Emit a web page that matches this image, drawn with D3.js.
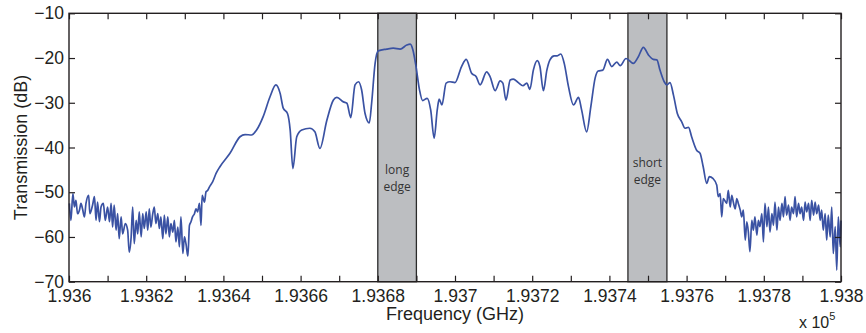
<!DOCTYPE html>
<html>
<head>
<meta charset="utf-8">
<script src="https://cdn.jsdelivr.net/npm/d3@7"></script>
<style>
  body { margin: 0; background: #fff; }
  svg text { font-family: "Liberation Sans", Arial, Helvetica, sans-serif; fill: #231f20; }
  .axis path { display: none; }
  .axis line { stroke: #231f20; stroke-width: 1.2; }
  .axis text { font-size: 17.5px; }
  .band-label { font-family: "Open Sans", "Noto Sans", sans-serif !important; font-size: 12px; fill: #333; }
</style>
</head>
<body>
<div id="chart"></div>
<script>
// frequency in GHz, transmission in dB
var freqGHz = [
  193600.1,193600.5,193601.0,193601.4,193601.8,193602.2,193602.7,193603.1,193603.5,193604.0,
  193604.4,193605.1,193605.4,193606.1,193606.6,193607.0,193607.4,193607.9,193608.3,193608.9,
  193609.4,193610.0,193610.5,193610.9,193611.3,193611.7,193612.2,193612.6,193613.0,193613.5,
  193613.9,193614.6,193615.2,193615.6,193616.1,193616.5,193616.9,193617.4,193617.8,193618.2,
  193618.7,193619.1,193619.5,193620.0,193620.4,193620.8,193621.2,193621.7,193622.1,193622.5,
  193623.0,193623.4,193623.8,193624.3,193624.7,193625.1,193625.6,193626.0,193626.4,193626.9,
  193627.3,193627.7,193628.2,193628.6,193629.0,193629.5,193629.9,193630.3,193630.8,193631.2,
  193631.6,193632.0,193632.5,193632.9,193633.3,193633.8,193634.2,193634.5,193635.1,193635.5,
  193635.9,193636.4,193637.2,193638.1,
  193639.1,193641.7,193644.3,193645.6,193647.3,193648.6,193650.3,193652.1,193653.6,193654.7,
  193655.5,193656.6,193657.3,193658.0,193659.0,193660.3,193662.4,193663.7,193665.0,193666.8,
  193668.5,193669.4,193671.1,193672.0,193673.0,193674.1,193675.0,193675.8,193676.7,193677.8,
  193678.4,193679.3,193680.1,193682.3,193684.0,193685.8,193687.5,193688.4,193689.1,193689.9,
  193690.8,193691.6,193692.8,193693.7,193694.6,193695.4,193695.9,193696.6,193697.7,193698.7,
  193700.0,193701.7,193702.9,193704.3,193705.5,193706.5,193708.2,193709.1,193710.4,193711.7,
  193712.4,193713.2,193714.3,193715.1,193716.4,193717.6,193718.6,193719.4,193720.3,193721.3,
  193722.0,193722.9,193723.8,193724.6,193725.7,193726.5,193727.4,193728.3,193729.4,193730.7,
  193732.0,193732.8,193734.1,193735.2,193736.3,193737.1,193738.3,193739.5,193740.6,193741.9,
  193742.8,193744.3,193746.2,193747.5,193748.8,193750.1,193751.4,193752.3,193753.1,193754.2,
  193754.9,193755.7,193756.6,193757.6,193758.7,193759.6,193760.5,193761.3,193762.6,193763.5,
  193764.3,193765.2,193765.9,193766.8,193767.8,
  193768.2,193768.7,193769.1,193769.5,193770.4,193770.8,193771.3,193771.7,193772.1,193772.6,
  193773.0,193773.4,193773.9,193774.3,193774.7,193775.2,193775.6,193776.0,193776.4,193776.9,
  193777.3,193777.7,193778.2,193778.6,193779.0,193779.5,193779.9,193780.3,193780.8,193781.2,
  193781.6,193782.1,193782.5,193782.9,193783.4,193783.8,193784.2,193784.7,193785.1,193785.5,
  193785.9,193786.4,193786.8,193787.2,193787.7,193788.1,193788.5,193789.0,193789.4,193789.8,
  193790.3,193790.7,193791.1,193791.6,193792.0,193792.4,193792.9,193793.3,193793.7,193794.2,
  193794.6,193795.0,193795.4,193795.9,193796.3,193796.7,193797.2,193797.6,193798.0,193798.5,
  193798.9,193799.3,193799.8,193800.0
];
var transmissionDb = [
  -52.5,-56.3,-50.3,-53.3,-51.8,-54.8,-54.0,-52.5,-53.7,-55.5,
  -52.5,-50.7,-54.8,-52.9,-51.0,-56.3,-52.2,-56.6,-53.3,-52.5,
  -56.3,-53.3,-56.6,-52.5,-57.8,-52.9,-58.5,-54.8,-60.4,-55.5,
  -59.3,-57.0,-58.5,-63.4,-60.0,-53.3,-61.5,-56.3,-59.3,-54.4,
  -60.0,-54.8,-58.1,-54.4,-58.5,-53.7,-57.8,-54.8,-53.3,-57.0,
  -54.8,-58.1,-55.5,-60.4,-55.1,-59.3,-55.5,-60.0,-57.0,-58.9,
  -56.3,-61.1,-57.8,-62.2,-55.5,-63.7,-60.0,-61.5,-64.3,-57.4,
  -56.6,-55.5,-54.8,-53.7,-54.4,-52.5,-57.4,-50.7,-52.2,-49.9,
  -49.6,-48.8,-47.7,-45.8,
  -44.3,-41.3,-37.6,-37.1,-37.2,-36.1,-33.1,-28.6,-26.0,-27.9,
  -31.2,-32.4,-36.1,-44.7,-37.6,-36.1,-35.7,-36.5,-40.2,-33.9,
  -29.4,-28.8,-29.8,-30.1,-33.3,-26.0,-25.3,-27.1,-32.4,-34.5,
  -30.1,-21.2,-18.4,-18.0,-17.8,-18.0,-17.1,-16.9,-18.2,-21.9,
  -27.1,-29.5,-29.0,-31.6,-37.9,-31.6,-29.2,-30.5,-25.6,-25.3,
  -25.5,-21.9,-20.3,-23.4,-24.2,-26.0,-23.1,-24.2,-27.3,-25.1,
  -25.6,-29.4,-24.9,-24.7,-25.5,-26.2,-25.6,-27.0,-22.7,-20.6,
  -21.9,-27.3,-22.7,-20.4,-19.5,-19.5,-19.1,-21.2,-26.4,-30.5,
  -28.8,-31.6,-36.5,-30.8,-24.5,-22.9,-22.7,-20.3,-21.9,-20.9,
  -21.7,-20.1,-21.2,-19.7,-17.6,-19.3,-20.3,-20.4,-22.7,-25.3,
  -26.0,-25.5,-28.3,-32.4,-34.2,-35.7,-35.5,-37.6,-40.6,-41.3,
  -44.3,-48.0,-46.5,-46.9,-48.4,
  -51.0,-50.3,-55.5,-51.4,-52.5,-49.6,-53.3,-50.7,-52.2,-53.7,
  -51.4,-52.5,-54.0,-55.5,-54.0,-60.7,-56.6,-58.9,-63.3,-56.3,
  -58.5,-55.5,-59.6,-56.3,-57.7,-54.8,-61.1,-52.5,-57.7,-53.3,
  -58.9,-54.8,-57.4,-52.2,-58.5,-53.3,-56.3,-52.5,-55.5,-51.0,
  -55.1,-52.9,-56.3,-53.3,-54.8,-51.0,-55.5,-52.5,-54.8,-53.3,
  -56.3,-52.2,-54.4,-52.5,-56.3,-51.8,-55.1,-52.2,-54.8,-52.9,
  -56.3,-54.0,-58.5,-54.8,-60.7,-55.1,-60.0,-53.3,-63.7,-57.7,
  -67.4,-55.5,-62.2,-56.3
];

// shaded edge regions (GHz)
var bandStart = [193680, 193744.8];
var bandEnd = [193690, 193754.9];
var bandLabels = [["long", "edge"], ["short", "edge"]];

var xTicks = [193600,193610,193620,193630,193640,193650,193660,193670,193680,193690,193700,
              193710,193720,193730,193740,193750,193760,193770,193780,193790,193800];
var xTickLabels = [193600,193620,193640,193660,193680,193700,193720,193740,193760,193780,193800];
var yTicks = [-70,-60,-50,-40,-30,-20,-10];

var margin = {top: 13.3, right: 25, bottom: 51.3, left: 69},
    width = 866,
    height = 333,
    chartWidth = width - margin.left - margin.right,
    chartHeight = height - margin.top - margin.bottom;

var svg = d3.select("#chart").append("svg")
    .attr("width", width)
    .attr("height", height);

var g = svg.append("g")
    .attr("transform", "translate(" + margin.left + "," + margin.top + ")");

var x = d3.scaleLinear().domain([193600, 193800]).range([0, chartWidth]);
var y = d3.scaleLinear().domain([-70, -10]).range([chartHeight, 0]);

var points = freqGHz.map(function(f, i) { return [f, transmissionDb[i]]; });

// grey bands
var bands = bandStart.map(function(s, i) { return {s: s, e: bandEnd[i], label: bandLabels[i]}; });

g.selectAll(".band")
    .data(bands)
  .enter().append("rect")
    .attr("class", "band")
    .attr("x", function(d) { return x(d.s); })
    .attr("y", 0)
    .attr("width", function(d) { return x(d.e) - x(d.s); })
    .attr("height", chartHeight)
    .attr("fill", "#bcbec1")
    .attr("stroke", "#2b2b2b")
    .attr("stroke-width", 1.3);

var bandText = g.selectAll(".band-label")
    .data(bands)
  .enter().append("text")
    .attr("class", "band-label")
    .attr("text-anchor", "middle")
    .attr("x", function(d) { return x((d.s + d.e) / 2); })
    .attr("y", function(d, i) { return i == 0 ? 161 : 154; });

bandText.selectAll("tspan")
    .data(function(d) { return d.label.map(function(t) { return {t: t, cx: x((d.s + d.e) / 2)}; }); })
  .enter().append("tspan")
    .attr("x", function(d) { return d.cx; })
    .attr("dy", function(d, i) { return i == 0 ? 0 : 17; })
    .text(function(d) { return d.t; });

// trace
var line = d3.line()
    .x(function(d) { return x(d[0]); })
    .y(function(d) { return y(d[1]); })
    .curve(d3.curveMonotoneX);

g.append("path")
    .datum(points)
    .attr("fill", "none")
    .attr("stroke", "#3a52a3")
    .attr("stroke-width", 1.7)
    .attr("stroke-linejoin", "round")
    .attr("d", line);

// axes, matlab box style with inward ticks
function fmtX(v) {
    return xTickLabels.indexOf(v) >= 0 ? String(+(v / 1e5).toFixed(5)) : "";
}

g.append("g")
    .attr("class", "x axis")
    .attr("transform", "translate(0," + chartHeight + ")")
    .call(d3.axisBottom(x).tickValues(xTicks).tickSizeInner(-6).tickSizeOuter(0).tickPadding(8).tickFormat(fmtX));

g.append("g")
    .attr("class", "x axis")
    .call(d3.axisTop(x).tickValues(xTicks).tickSizeInner(-6).tickSizeOuter(0).tickFormat(""));

g.append("g")
    .attr("class", "y axis")
    .call(d3.axisLeft(y).tickValues(yTicks).tickSizeInner(-6).tickSizeOuter(0).tickPadding(5).tickFormat(d3.format("d")));

g.append("g")
    .attr("class", "y axis")
    .attr("transform", "translate(" + chartWidth + ",0)")
    .call(d3.axisRight(y).tickValues(yTicks).tickSizeInner(-6).tickSizeOuter(0).tickFormat(""));

g.append("rect")
    .attr("x", 0)
    .attr("y", 0)
    .attr("width", chartWidth)
    .attr("height", chartHeight)
    .attr("fill", "none")
    .attr("stroke", "#231f20")
    .attr("stroke-width", 1.4);

// labels
svg.append("text")
    .attr("x", margin.left + chartWidth / 2)
    .attr("y", 320)
    .attr("text-anchor", "middle")
    .style("font-size", "18px")
    .text("Frequency (GHz)");

svg.append("text")
    .attr("transform", "translate(27," + (margin.top + chartHeight / 2) + ") rotate(-90)")
    .attr("text-anchor", "middle")
    .style("font-size", "18px")
    .text("Transmission (dB)");

var mult = svg.append("text")
    .attr("x", 799)
    .attr("y", 328)
    .style("font-size", "16px");
mult.append("tspan").text("x 10");
mult.append("tspan").attr("dy", -8).style("font-size", "11px").text("5");
</script>
</body>
</html>
